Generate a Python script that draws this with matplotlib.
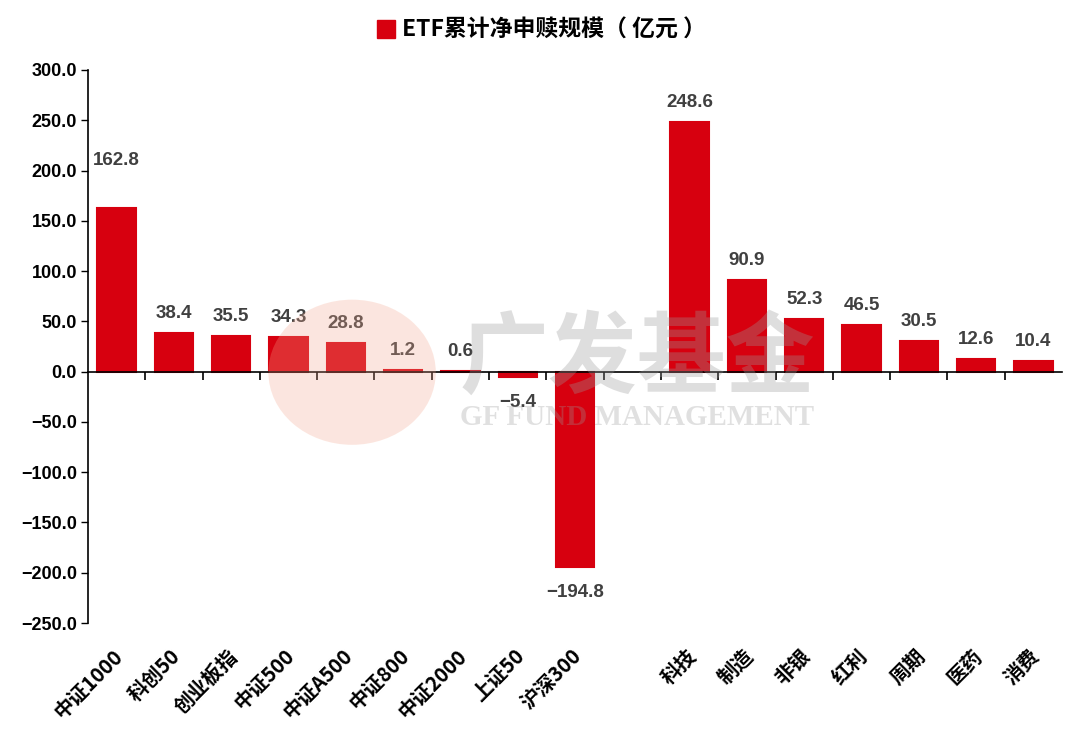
import matplotlib.pyplot as plt
from matplotlib.patches import Ellipse
from matplotlib.lines import Line2D
import matplotlib.transforms as mtransforms

# data
broad = ['中证1000', '科创50', '创业板指', '中证500', '中证A500', '中证800', '中证2000', '上证50', '沪深300']
broad_vals = [162.8, 38.4, 35.5, 34.3, 28.8, 1.2, 0.6, -5.4, -194.8]
sector = ['科技', '制造', '非银', '红利', '周期', '医药', '消费']
sector_vals = [248.6, 90.9, 52.3, 46.5, 30.5, 12.6, 10.4]
yticks = [300, 250, 200, 150, 100, 50, 0, -50, -100, -150, -200, -250]

RED = '#D7000F'
CJK = ['Noto Sans CJK SC', 'DejaVu Sans']
NUM = ['Liberation Sans', 'DejaVu Sans']

fig = plt.figure(figsize=(10.8, 7.52), dpi=100)
ax = fig.add_axes([88 / 1080, 129 / 752, 974 / 1080, 553 / 752])

labels = broad + [''] + sector
values = broad_vals + [None] + sector_vals
xs = [i for i, v in enumerate(values) if v is not None]
vs = [v for v in values if v is not None]
names = [l for l, v in zip(labels, values) if v is not None]

ax.bar(xs, vs, width=0.67, color=RED, edgecolor=RED, linewidth=1.5, zorder=2)

ax.set_xlim(-0.5, len(labels) - 0.5)
ax.set_ylim(-250, 300)
ax.set_yticks(yticks)
ax.set_yticklabels([f'{t:.1f}'.replace('-', '\u2212') for t in yticks],
                   fontfamily=NUM, fontweight='bold', fontsize=13)
ax.tick_params(axis='y', direction='out', length=5, width=1, pad=3)

for s in ['top', 'right']:
    ax.spines[s].set_visible(False)
ax.spines['bottom'].set_position(('data', 0))
ax.spines['left'].set_linewidth(1.2)
ax.spines['bottom'].set_linewidth(1.2)
ax.set_xticks([i + 0.5 for i in range(len(labels) - 1)])
ax.set_xticklabels([])
ax.tick_params(axis='x', direction='out', length=6, width=1.2)

# category labels
trans = mtransforms.blended_transform_factory(ax.transData, ax.transAxes)
for x, n in zip(xs, names):
    ax.text(x - 0.08, -0.04, n, transform=trans, rotation=45, rotation_mode='anchor',
            ha='right', va='top', fontsize=14.5, fontweight='bold', fontfamily=CJK)

# value labels
nudge = {0: 20}
for k, (x, v) in enumerate(zip(xs, vs)):
    off = 8 + nudge.get(k, 0)
    if v < 0:
        off += 4
    ax.annotate(f'{v:.1f}'.replace('-', '\u2212'), (x, v),
                xytext=(0, off if v >= 0 else -off), textcoords='offset points',
                ha='center', va='bottom' if v >= 0 else 'top',
                fontsize=13.5, fontweight='bold', color='#404040', fontfamily=NUM, zorder=4)

# watermark
fig.patches.append(Ellipse((0.326, 0.505), 0.155, 0.193, transform=fig.transFigure,
                           color='#F4A58C', alpha=0.28, lw=0, zorder=5))
fig.text(0.59, 0.522, '广发基金', fontsize=64, fontweight='bold', fontfamily=CJK,
         color='#9a9a9a', alpha=0.32, ha='center', va='center', zorder=6)
fig.text(0.590, 0.445, 'GF FUND MANAGEMENT', fontsize=21, fontfamily='Liberation Serif',
         fontweight='bold', color='#9a9a9a', alpha=0.3, ha='center', va='center', zorder=6)

# legend as title
h = Line2D([], [], marker='s', color=RED, linestyle='none', markersize=13)
fig.legend([h], ['ETF累计净申赎规模（ 亿元 ）'], loc='center', bbox_to_anchor=(0.5, 0.96),
           frameon=False, handletextpad=0.2, handlelength=1.0,
           prop={'family': CJK, 'weight': 'bold', 'size': 16.5})

fig.savefig('out.png', dpi=100)
